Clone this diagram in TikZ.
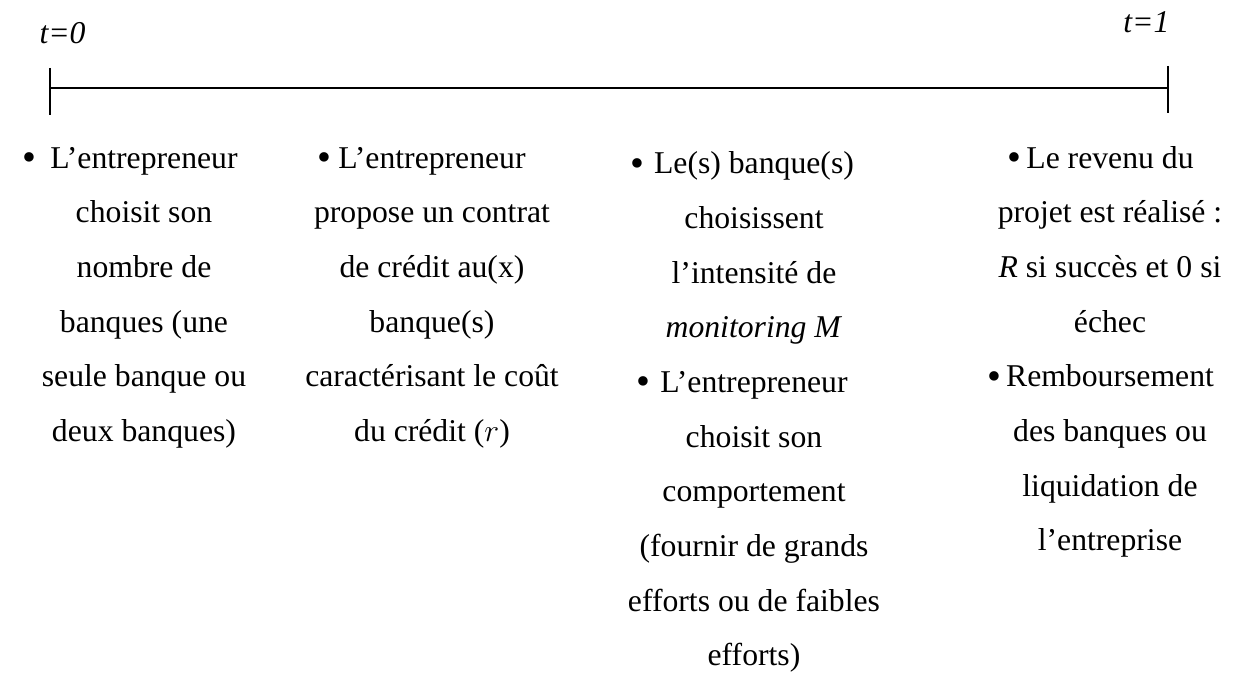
\documentclass[tikz,border=0pt]{standalone}
\usepackage{fontspec}
\setmainfont{Liberation Serif}
\usepackage{tikz}
\newcommand{\puce}[1]{\llap{\raisebox{-0.9pt}{\fontsize{15}{15}\selectfont\textbullet}\hspace{#1}}}

\begin{document}
\begin{tikzpicture}[x=0.3785pt, y=-0.3785pt,
    etape/.style={align=center, anchor=base, inner sep=0pt,
      font=\fontsize{12}{20.7}\selectfont},
    temps/.style={inner sep=0pt, font=\fontsize{12}{14}\selectfont\itshape}]
    \useasboundingbox (0,0) rectangle (1234,677);
    % axe du temps
    \coordinate (t0) at (50,88);
    \coordinate (t1) at (1168,88);
    \coordinate (t0haut) at (50,68);
    \coordinate (t0bas) at (50,115);
    \coordinate (t1haut) at (1168,66);
    \coordinate (t1bas) at (1168,113);
    \draw[line width=0.75pt] (t0) -- (t1);
    \draw[line width=0.75pt] (t0haut) -- (t0bas);
    \draw[line width=0.75pt] (t1haut) -- (t1bas);
    \node[temps, anchor=base west] (lt0) at (39,44) {t=0};
    \node[temps, anchor=base east] (lt1) at (1170,33) {t=1};
    % les etapes (base = derniere ligne)
    \node[etape] (e1) at (144,441.5) {\puce{5.4pt}L’entrepreneur\\
      choisit son\\ nombre de\\ banques (une\\ seule banque ou\\ deux banques)};
    \node[etape] (e2) at (432,441.5) {\puce{2.7pt}L’entrepreneur\\
      propose un contrat\\ de crédit au(x)\\ banque(s)\\
      caractérisant le coût\\ du crédit ($r$)};
    \node[etape] (e3) at (754,666) {\puce{3.8pt}Le(s) banque(s)\\
      choisissent\\ l’intensité de\\ \textit{monitoring M}\\
      \puce{3.8pt}L’entrepreneur\\ choisit son\\ comportement\\
      (fournir de grands\\ efforts ou de faibles\\ efforts)};
    \node[etape] (e4) at (1110,551) {\puce{1.9pt}Le revenu du\\
      projet est réalisé :\\ \textit{R} si succès et 0 si\\ échec\\
      \puce{1.9pt}Remboursement\\ des banques ou\\
      liquidation de\\ l’entreprise};
\end{tikzpicture}
\end{document}
